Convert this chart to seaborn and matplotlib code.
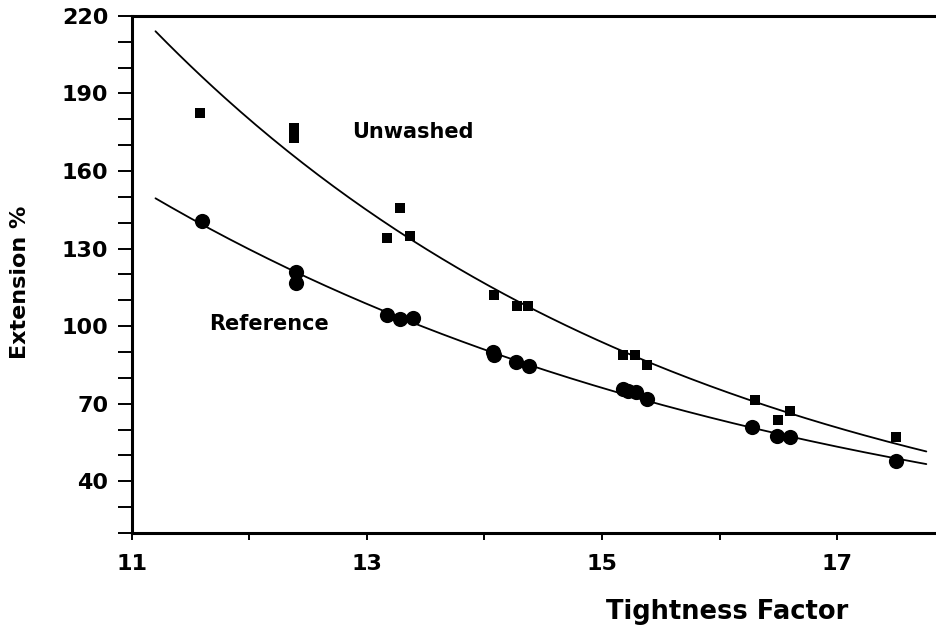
import numpy as np
import pandas as pd
import matplotlib
matplotlib.use("Agg")
import matplotlib.pyplot as plt
import seaborn as sns
from matplotlib.ticker import MultipleLocator

# Unwashed fabric samples (squares)
unwashed_tf = [11.58, 12.38, 12.38, 13.17, 13.28, 13.37, 14.08, 14.28, 14.37,
               15.18, 15.28, 15.38, 16.30, 16.50, 16.60, 17.50]
unwashed_ext = [182.5, 176.7, 172.8, 134.0, 145.7, 134.8, 112.0, 107.7, 107.7,
                88.8, 88.8, 84.9, 71.4, 63.6, 67.0, 57.0]

# Reference (relaxed) samples (circles)
reference_tf = [11.60, 12.40, 12.40, 13.17, 13.28, 13.39, 14.07, 14.08, 14.27, 14.38,
                15.18, 15.22, 15.29, 15.38, 16.28, 16.49, 16.60, 17.50]
reference_ext = [140.6, 120.9, 116.6, 104.3, 102.7, 103.1, 89.9, 89.0, 86.0, 84.5,
                 75.6, 75.0, 74.4, 71.7, 60.9, 57.4, 57.0, 47.7]

x_ticks = [11, 13, 15, 17]
y_ticks = [40, 70, 100, 130, 160, 190, 220]

sns.set_theme(style="white", rc={
    "text.color": "black",
    "axes.labelcolor": "black",
    "xtick.color": "black",
    "ytick.color": "black",
    "axes.edgecolor": "black",
})
plt.rcParams["font.family"] = ["DejaVu Sans"]
plt.rcParams["font.weight"] = "bold"

fig = plt.figure(figsize=(9.36, 6.33), dpi=100)
ax = fig.add_axes([0.141, 0.158, 0.87, 0.817])

def exp_fit(x, y, lo, hi):
    """Least-squares exponential trend through the samples."""
    x = np.asarray(x)
    y = np.asarray(y)
    b, ln_a = np.polyfit(x, np.log(y), 1)
    grid = np.linspace(lo, hi, 200)
    return grid, np.exp(ln_a + b * grid)

gx, gy = exp_fit(unwashed_tf, unwashed_ext, 11.2, 17.76)
sns.lineplot(x=gx, y=gy, ax=ax, color="black", lw=1.3)
gx, gy = exp_fit(reference_tf, reference_ext, 11.2, 17.76)
sns.lineplot(x=gx, y=gy, ax=ax, color="black", lw=1.3)

sns.scatterplot(x=unwashed_tf, y=unwashed_ext, ax=ax, marker="s", s=45,
                color="black", edgecolor="black", linewidth=0)
sns.scatterplot(x=reference_tf, y=reference_ext, ax=ax, marker="o", s=120,
                color="black", edgecolor="black", linewidth=0)

ax.text(12.87, 175, "Unwashed", fontsize=15, fontweight="bold", va="center",
        ha="left", color="black")
ax.text(11.66, 101, "Reference", fontsize=15, fontweight="bold", va="center",
        ha="left", color="black")

ax.set_xlim(11, 17.93)
ax.set_ylim(20, 220)
ax.set_xticks(x_ticks)
ax.set_yticks(y_ticks)
ax.xaxis.set_minor_locator(MultipleLocator(1))
ax.yaxis.set_minor_locator(MultipleLocator(10))

ax.tick_params(axis="both", which="both", direction="out", color="black",
               labelcolor="black", width=1.4)
ax.tick_params(axis="x", which="both", length=5, labelsize=16, pad=10)
ax.tick_params(axis="y", which="both", length=10, labelsize=16, pad=7)
ax.tick_params(axis="both", which="both", bottom=True, left=True)
for lab in ax.get_xticklabels() + ax.get_yticklabels():
    lab.set_fontweight("bold")

for side in ["left", "bottom", "top"]:
    ax.spines[side].set_linewidth(2.2)
    ax.spines[side].set_color("black")
ax.spines["right"].set_visible(False)

ax.set_xlabel("Tightness Factor", fontsize=18.5, fontweight="bold", va="center",
              color="black")
ax.xaxis.set_label_coords(0.731, -0.153)
ax.set_ylabel("Extension %", fontsize=16, fontweight="bold", va="center",
              color="black")
ax.yaxis.set_label_coords(-0.137, 0.484)

fig.savefig("out.png", dpi=100)
